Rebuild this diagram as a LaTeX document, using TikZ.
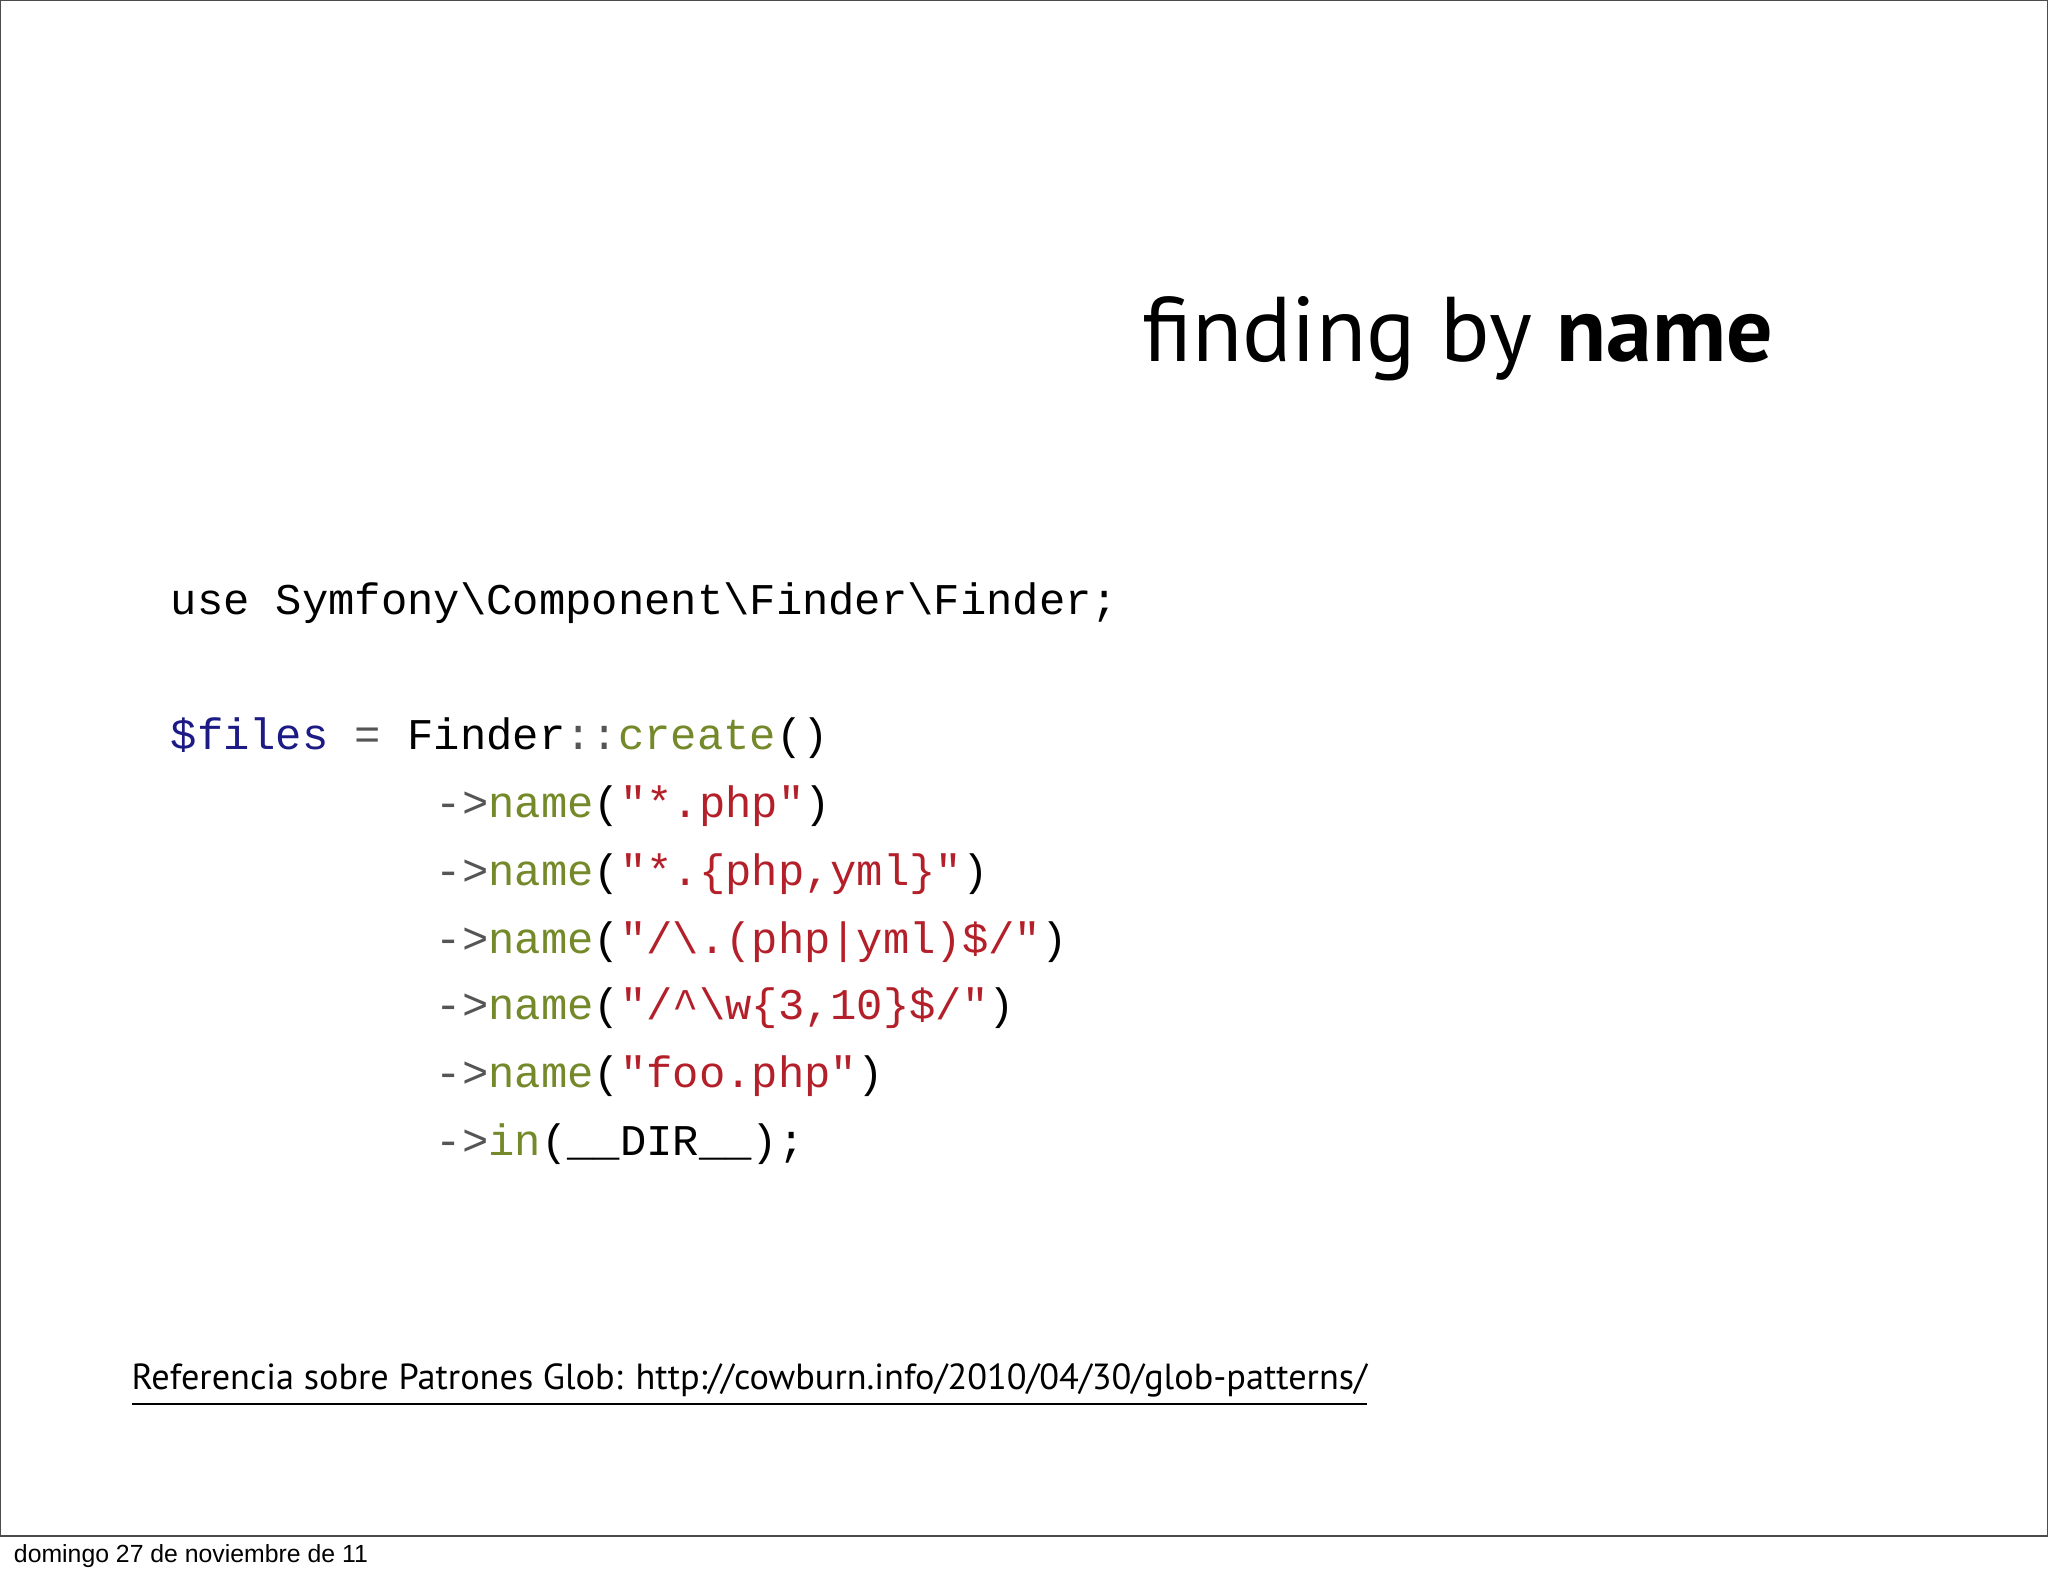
\documentclass[tikz,border=0pt]{standalone}
\usepackage{fontspec}
\setmainfont{PT Sans}
\newfontfamily\codefont{Liberation Mono}
\newfontfamily\footfont{Liberation Sans}
\definecolor{cblue}{HTML}{1C1A85}
\definecolor{cgreen}{HTML}{74892A}
\definecolor{cred}{HTML}{B4202A}
\definecolor{cgray}{HTML}{555555}
\begin{document}
\begin{tikzpicture}[x=0.01cm,y=-0.01cm,
  code/.style={anchor=west,inner sep=0pt,font=\codefont\fontsize{9.55pt}{11pt}\selectfont}]
\useasboundingbox (0,0) rectangle (1568,1207);
\fill[white] (0,0) rectangle (1568,1207);
\draw[line width=0.6pt,black!70] (0,0) rectangle (1568,1176);
\node[anchor=base east,inner sep=0pt,font=\fontsize{20pt}{24pt}\selectfont] (title) at (1358,277) {finding by \textbf{name}};
\node[code] (l1) at (130,462) {use Symfony\textbackslash Component\textbackslash Finder\textbackslash Finder;};
\node[code] (l2) at (130,565) {\textcolor{cblue}{\$files} \textcolor{cgray}{=} Finder\textcolor{cgray}{::}\textcolor{cgreen}{create}()};
\node[code] (l3) at (333,617) {\textcolor{cgray}{->}\textcolor{cgreen}{name}(\textcolor{cred}{"*.php"})};
\node[code] (l4) at (333,669) {\textcolor{cgray}{->}\textcolor{cgreen}{name}(\textcolor{cred}{"*.\{php,yml\}"})};
\node[code] (l5) at (333,721) {\textcolor{cgray}{->}\textcolor{cgreen}{name}(\textcolor{cred}{"/\textbackslash.(php|yml)\$/"})};
\node[code] (l6) at (333,772) {\textcolor{cgray}{->}\textcolor{cgreen}{name}(\textcolor{cred}{"/\textasciicircum\textbackslash w\{3,10\}\$/"})};
\node[code] (l7) at (333,824) {\textcolor{cgray}{->}\textcolor{cgreen}{name}(\textcolor{cred}{"foo.php"})};
\node[code] (l8) at (333,876) {\textcolor{cgray}{->}\textcolor{cgreen}{in}(\_\_DIR\_\_);};
\node[anchor=base west,inner sep=0pt,font=\fontsize{7.9pt}{9pt}\selectfont] (ref) at (100,1064) {\underline{Referencia sobre Patrones Glob: http://cowburn.info/2010/04/30/glob-patterns/}};
\node[anchor=base west,inner sep=0pt,font=\footfont\fontsize{5.4pt}{6pt}\selectfont] (foot) at (10,1196) {domingo 27 de noviembre de 11};
\end{tikzpicture}
\end{document}
